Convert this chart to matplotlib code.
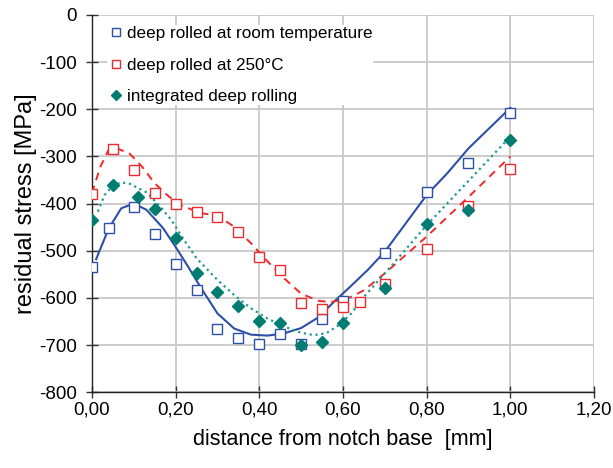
import numpy as np
import matplotlib.pyplot as plt

plt.rcParams['font.family'] = ['Liberation Sans', 'DejaVu Sans']
plt.rcParams['axes.unicode_minus'] = False

# measured points
# deep rolled at room temperature
x_room = [0, 0.04, 0.1, 0.15, 0.2, 0.25, 0.3, 0.35, 0.4, 0.45, 0.5, 0.55, 0.6, 0.7, 0.8, 0.9, 1.0]
y_room = [-535, -452, -408, -465, -529, -584, -665, -686, -697, -677, -697, -644, -607, -505, -375, -313, -208]

# deep rolled at 250°C
x_hot = [0, 0.05, 0.1, 0.15, 0.2, 0.25, 0.3, 0.35, 0.4, 0.45, 0.5, 0.55, 0.6, 0.64, 0.7, 0.8, 0.9, 1.0]
y_hot = [-380, -284, -328, -377, -401, -417, -428, -460, -514, -541, -611, -623, -620, -609, -570, -496, -405, -327]

# integrated deep rolling
x_int = [0, 0.05, 0.11, 0.15, 0.2, 0.25, 0.3, 0.35, 0.4, 0.45, 0.5, 0.55, 0.6, 0.7, 0.8, 0.9, 1.0]
y_int = [-434, -361, -385, -412, -472, -547, -588, -618, -649, -653, -700, -694, -654, -580, -444, -413, -265]

# fitted curves
xf_room = [0.01, 0.04, 0.07, 0.10, 0.13, 0.17, 0.20, 0.23, 0.26, 0.30, 0.34, 0.38, 0.42,
           0.46, 0.50, 0.54, 0.58, 0.62, 0.66, 0.70, 0.75, 0.80, 0.85, 0.90, 0.95, 1.0]
yf_room = [-518, -453, -410, -400, -413, -452, -492, -534, -578, -633, -665, -678, -680,
           -675, -664, -642, -607, -574, -540, -502, -442, -382, -335, -283, -240, -197]

xf_hot = [0.0, 0.02, 0.04, 0.06, 0.09, 0.12, 0.15, 0.18, 0.21, 0.26, 0.30, 0.34, 0.38,
          0.42, 0.46, 0.50, 0.54, 0.57, 0.61, 0.65, 0.70, 0.80, 0.90, 1.0]
yf_hot = [-378, -322, -286, -283, -294, -322, -357, -382, -403, -420, -426, -449, -484,
          -523, -559, -591, -606, -609, -602, -584, -548, -470, -386, -300]

xf_int = [0.014, 0.03, 0.05, 0.07, 0.09, 0.13, 0.16, 0.19, 0.22, 0.25, 0.30, 0.34, 0.38,
          0.42, 0.46, 0.50, 0.53, 0.56, 0.59, 0.62, 0.65, 0.70, 0.80, 0.90, 1.0]
yf_int = [-417, -382, -362, -355, -358, -376, -403, -435, -477, -516, -562, -594, -622,
          -644, -661, -674, -679, -675, -658, -633, -598, -548, -446, -352, -258]

c_blue = "#2E4FA6"
c_red = "#EE2A2F"
c_green = "#007C70"
c_dot = "#1C9A90"

fig = plt.figure(figsize=(6.13, 4.68), dpi=100)
ax = fig.add_axes([0.150, 0.162, 0.819, 0.806])

ax.plot(xf_room, yf_room, "-", color=c_blue, lw=1.5, zorder=3, solid_joinstyle="round")
ax.plot(xf_hot, yf_hot, "--", color=c_red, lw=1.4, dashes=(4, 3), zorder=3)
ax.plot(xf_int, yf_int, ":", color=c_dot, lw=1.6, zorder=3)

ax.plot(x_room, y_room, "s", mfc="white", mec=c_blue, ms=6.5, mew=1.0,
        ls="none", label="deep rolled at room temperature", zorder=4)
ax.plot(x_hot, y_hot, "s", mfc="white", mec=c_red, ms=6.5, mew=1.0,
        ls="none", label="deep rolled at 250°C", zorder=4)
ax.plot(x_int, y_int, "D", color=c_green, ms=6.3, ls="none",
        label="integrated deep rolling", zorder=4)

ax.set_xlim(0, 1.2)
ax.set_ylim(-800, 0)
xt = np.arange(0, 1.21, 0.2)
ax.set_xticks(xt)
ax.set_xticklabels([f"{v:.2f}".replace(".", ",") for v in xt])
ax.set_yticks(np.arange(-800, 1, 100))
ax.grid(True, color="#c8c8c8", lw=1.3, zorder=0)
ax.set_axisbelow(True)
for s in ["top", "right"]:
    ax.spines[s].set_visible(False)
for s in ["left", "bottom"]:
    ax.spines[s].set_color("#222222")
    ax.spines[s].set_linewidth(1.0)
ax.tick_params(direction="inout", length=8, width=1.0, color="#333333",
               labelsize=13.5)
ax.tick_params(axis="x", pad=3)
ax.tick_params(axis="y", pad=7)

ax.set_xlabel("distance from notch base  [mm]", fontsize=15.5, labelpad=7)
ax.set_ylabel("residual stress [MPa]", fontsize=17, labelpad=1.5)

leg = ax.legend(loc="upper left", bbox_to_anchor=(0.012, 0.996), frameon=True,
                fontsize=12.3, handletextpad=0.15, handlelength=1.0,
                labelspacing=0.98, borderpad=0.05, markerscale=0.8)
leg.get_frame().set_facecolor("white")
leg.get_frame().set_edgecolor("none")
leg.get_frame().set_alpha(1)
leg.set_zorder(5)

fig.savefig("out.png", dpi=100)
